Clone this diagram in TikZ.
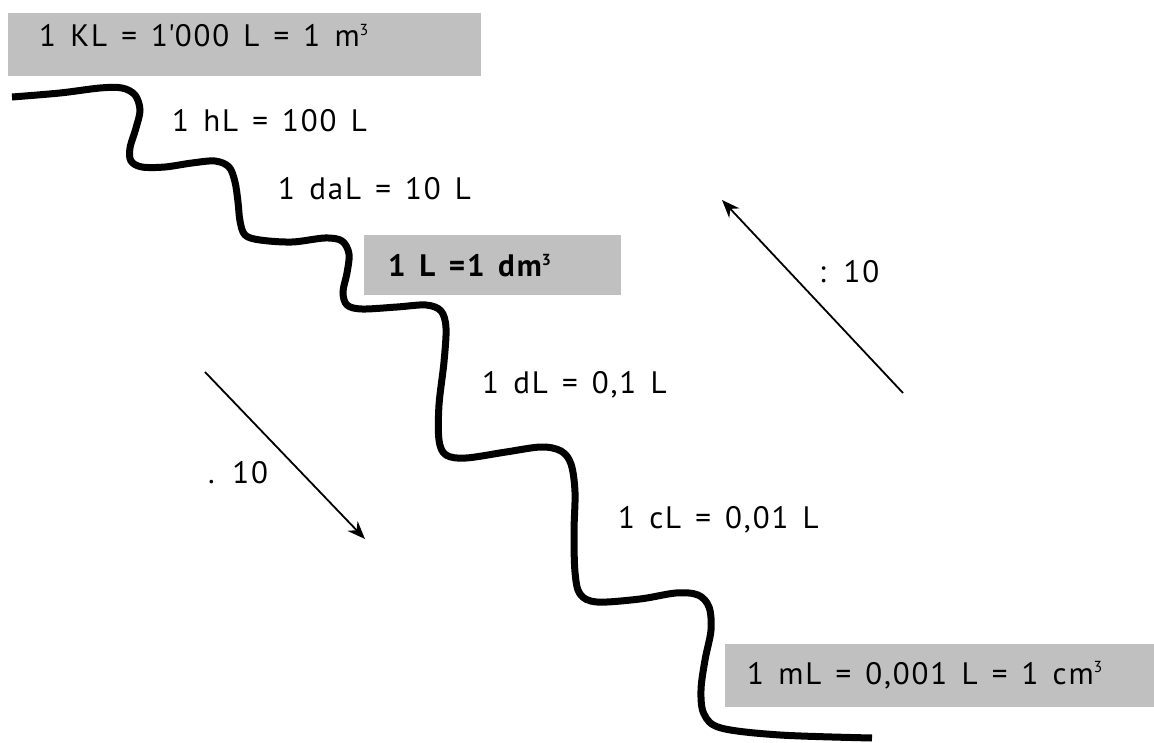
\documentclass[tikz,border=0pt]{standalone}
\usepackage{fontspec}
\setmainfont{PT Sans}[LetterSpace=6, WordSpace=1.4]
\usepackage{tikz}
\usetikzlibrary{arrows.meta}
\definecolor{boxgray}{RGB}{192,192,192}
\newcommand{\tick}{{\addfontfeature{Ligatures=TeXOff}'}}
\newcommand{\cubed}{\raisebox{0.36em}{\fontsize{16}{16}\selectfont 3}}

\begin{document}
\begin{tikzpicture}[x=1pt, y=-1pt,
        lbl/.style={anchor=base west, inner sep=0pt, font=\fontsize{31}{35}\selectfont},
        graybox/.style={fill=boxgray, inner sep=0pt, anchor=north west},
        conv/.style={line width=1.8pt, -{Stealth[length=18pt, width=14pt]}}]
            \useasboundingbox (0,0) rectangle (1154,743);

            % gray boxes for the main units
            \node[graybox, minimum width=473pt, minimum height=63pt] (kbox) at (8,13) {};
            \node[graybox, minimum width=257pt, minimum height=60pt] (lbox) at (364,235) {};
            \node[graybox, minimum width=429pt, minimum height=63pt] (mbox) at (725,644) {};

            % the stairs
            \draw[line width=7pt] plot[smooth, tension=0.55] coordinates {
                (12,97) (60,93) (100,88) (122,88) (135,95) (140,110) (136,128) (130,148)
                (131,161) (142,167) (165,167) (192,163) (215,161) (229,167) (235,182)
                (238,202) (240,221) (245,235) (260,240) (292,242) (325,238) (342,241)
                (349,254) (347,273) (343,292) (347,305) (362,309) (397,307) (426,305)
                (441,311) (446,328) (444,362) (439,405) (439,440) (446,455) (466,458)
                (506,452) (541,447) (561,451) (571,464) (575,492) (574,532) (575,572)
                (580,594) (597,602) (640,599) (676,593) (698,595) (709,607) (711,630)
                (705,660) (701,690) (704,714) (721,728) (780,735) (872,738)};

            % unit labels
            \node[lbl] (kilo) at (39,47) {1 KL = 1\tick 000 L = 1 m\cubed};
            \node[lbl] (hecto) at (172,132) {1 hL = 100 L};
            \node[lbl] (deca) at (278,200) {1 daL = 10 L};
            \node[lbl, font=\fontsize{31}{35}\selectfont\bfseries] (litre) at (388,277) {1 L =1 dm\cubed};
            \node[lbl] (deci) at (482,393) {1 dL = 0,1 L};
            \node[lbl] (centi) at (618,528) {1 cL = 0,01 L};
            \node[lbl] (milli) at (747,684) {1 mL = 0,001 L = 1 cm\cubed};

            % conversion arrows
            \coordinate (dtop) at (205,372);
            \coordinate (dend) at (365,539);
            \coordinate (ubot) at (903,393);
            \coordinate (uend) at (722,200);
            \draw[conv] (dtop) -- (dend);
            \draw[conv] (ubot) -- (uend);
            \node[lbl] (times) at (208,483) {. 10};
            \node[lbl] (divide) at (819,283) {: 10};
\end{tikzpicture}
\end{document}
